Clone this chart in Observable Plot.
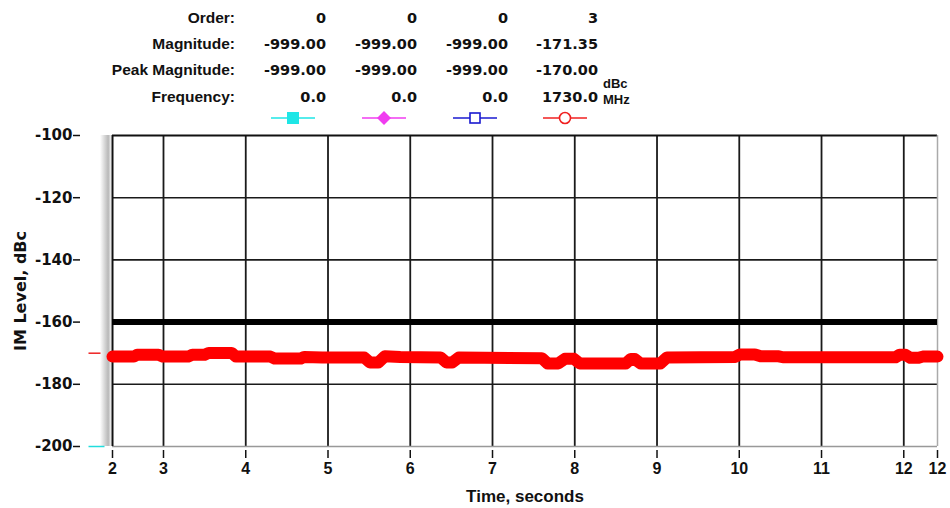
<!DOCTYPE html>
<html>
<head>
<meta charset="utf-8">
<script src="https://cdn.jsdelivr.net/npm/d3@7"></script>
<script src="https://cdn.jsdelivr.net/npm/@observablehq/plot@0.6"></script>
<style>
  body { margin: 0; background: #fff; font-family: "Liberation Sans", Arial, sans-serif; }
  #header { display: block; }
  #chart svg { display: block; }
</style>
</head>
<body>
<svg id="header" width="950" height="125"></svg>
<div id="chart"></div>
<script>
// ---- legend table data ----
const rowLabels = ["Order:", "Magnitude:", "Peak Magnitude:", "Frequency:"];
const orderVals = ["0", "0", "0", "3"];
const magnitudeVals = ["-999.00", "-999.00", "-999.00", "-171.35"];
const peakVals = ["-999.00", "-999.00", "-999.00", "-170.00"];
const freqVals = ["0.0", "0.0", "0.0", "1730.0"];
const seriesColors = ["#1ee6e6", "#f03cf0", "#1a1ad0", "#f02020"];
const seriesSymbols = ["squareFilled", "diamondFilled", "squareOpen", "circleOpen"];
const unitLabels = ["dBc", "MHz"];

// ---- axes ----
const xDomain = [2.38, 12.41];
const xTicks = [2.38, 3, 4, 5, 6, 7, 8, 9, 10, 11, 12, 12.41];
const xGrid = [3, 4, 5, 6, 7, 8, 9, 10, 11, 12];
const yDomain = [-200, -100];
const yTicks = [-100, -120, -140, -160, -180, -200];
const yGrid = [-120, -140, -160, -180];

// ---- series ----
const limitLevel = [-160];
const imTime = [2.38, 2.64, 2.68, 2.94, 2.99, 3.30, 3.35, 3.50, 3.55, 3.83, 3.88, 4.30, 4.35, 4.67, 4.71, 4.93,
  5.44, 5.51, 5.61, 5.69, 5.88, 6.37, 6.44, 6.51, 6.59, 7.60, 7.67, 7.80, 7.88, 7.99, 8.06, 8.62, 8.68, 8.73,
  8.80, 9.04, 9.12, 9.95, 10.01, 10.19, 10.26, 10.48, 10.53, 11.90, 11.95, 12.02, 12.08, 12.18, 12.23, 12.41];
const imLevel = [-171.1, -171.1, -170.5, -170.5, -171.1, -171.1, -170.5, -170.5, -169.9, -169.9, -171.1, -171.1, -171.7, -171.7, -171.2, -171.4,
  -171.4, -173.0, -173.0, -171.0, -171.2, -171.4, -173.0, -173.0, -171.4, -171.6, -173.3, -173.3, -171.8, -171.8, -173.3, -173.3, -171.9, -171.9,
  -173.3, -173.3, -171.4, -171.2, -170.4, -170.4, -171.0, -171.0, -171.3, -171.3, -170.5, -170.5, -171.5, -171.5, -171.1, -171.1];
const peakMarker = [-170];
const floorMarker = [-200];

const imData = imTime.map((t, i) => ({t, v: imLevel[i]}));

// ---- header (legend table) ----
const hdr = d3.select("#header");
const font = "Liberation Sans, Arial, sans-serif";
const numFont = "DejaVu Sans, Verdana, sans-serif";
const labelRight = 235;
const colRight = [326, 417, 508, 598];
const rowY = [23, 49, 75, 102];
const rows = [orderVals, magnitudeVals, peakVals, freqVals];
rowLabels.forEach((lab, r) => {
  hdr.append("text").attr("x", labelRight).attr("y", rowY[r]).attr("text-anchor", "end")
    .attr("font-family", font).attr("font-weight", "bold").attr("font-size", 15.5).attr("fill", "#111").text(lab);
  rows[r].forEach((v, c) => {
    hdr.append("text").attr("x", colRight[c]).attr("y", rowY[r]).attr("text-anchor", "end")
      .attr("font-family", numFont).attr("font-weight", "bold").attr("font-size", 14.5).attr("fill", "#111").text(v);
  });
});
hdr.append("text").attr("x", 603).attr("y", 88).attr("font-family", font).attr("font-weight", "bold")
  .attr("font-size", 13).attr("fill", "#111").text(unitLabels[0]);
hdr.append("text").attr("x", 603).attr("y", 104).attr("font-family", font).attr("font-weight", "bold")
  .attr("font-size", 13).attr("fill", "#111").text(unitLabels[1]);
const markerY = 118;
seriesColors.forEach((col, i) => {
  const cx = colRight[i] - 33;
  hdr.append("line").attr("x1", cx - 22).attr("x2", cx + 22).attr("y1", markerY).attr("y2", markerY)
    .attr("stroke", col).attr("stroke-width", 1.6);
  const s = seriesSymbols[i];
  if (s === "squareFilled") {
    hdr.append("rect").attr("x", cx - 6).attr("y", markerY - 6).attr("width", 12).attr("height", 12).attr("fill", col);
  } else if (s === "diamondFilled") {
    hdr.append("path").attr("d", `M${cx},${markerY - 7}L${cx + 7},${markerY}L${cx},${markerY + 7}L${cx - 7},${markerY}Z`).attr("fill", col);
  } else if (s === "squareOpen") {
    hdr.append("rect").attr("x", cx - 5).attr("y", markerY - 5).attr("width", 10).attr("height", 10)
      .attr("fill", "white").attr("stroke", col).attr("stroke-width", 1.6);
  } else {
    hdr.append("circle").attr("cx", cx).attr("cy", markerY).attr("r", 5.5)
      .attr("fill", "white").attr("stroke", col).attr("stroke-width", 1.6);
  }
});

// ---- chart ----
const dash = (half) => ({draw(ctx) { ctx.moveTo(-half, 0); ctx.lineTo(half, 0); }});

const plot = Plot.plot({
  width: 950,
  height: 383,
  marginTop: 10,
  marginBottom: 62,
  marginLeft: 112,
  marginRight: 13,
  style: {fontFamily: font, fontWeight: "bold", fontSize: "16px", color: "#111", background: "white"},
  x: {domain: xDomain, type: "linear"},
  y: {domain: yDomain},
  marks: [
    Plot.ruleX(xGrid, {stroke: "#1a1a1a", strokeWidth: 1.8}),
    Plot.ruleY(yGrid, {stroke: "#1a1a1a", strokeWidth: 1.6}),
    Plot.ruleY([yDomain[1]], {stroke: "#111", strokeWidth: 2}),
    Plot.ruleY([yDomain[0]], {stroke: "#999", strokeWidth: 1.5}),
    Plot.ruleX([xDomain[0]], {stroke: "#111", strokeWidth: 2}),
    Plot.ruleX([xDomain[1]], {stroke: "#aaa", strokeWidth: 1.5}),
    Plot.ruleY(limitLevel, {stroke: "black", strokeWidth: 6}),
    Plot.line(imData, {x: "t", y: "v", stroke: "#ff0000", strokeWidth: 12, strokeLinejoin: "round", strokeLinecap: "round"}),
    Plot.dot(peakMarker, {y: d => d, frameAnchor: "left", dx: -18, symbol: dash(6), stroke: "#ee2222", strokeWidth: 1.5, fill: "none"}),
    Plot.dot(floorMarker, {y: d => d, frameAnchor: "left", dx: -16, symbol: dash(8), stroke: "#22dddd", strokeWidth: 1.5, fill: "none"}),
    Plot.axisY({ticks: yTicks, tickFormat: d => String(d), tickSize: 7, tickPadding: 1, dx: -32, label: null,
      fontSize: 15, fontFamily: numFont, strokeWidth: 1.5}),
    Plot.axisX({ticks: xTicks, tickFormat: d => String(Math.round(d)), tickSize: 8, tickPadding: 4, dy: 4, label: null, fontSize: 16, strokeWidth: 1.5}),
    Plot.text(["Time, seconds"], {frameAnchor: "bottom", dy: 55, text: d => d, fontSize: 17, fontWeight: "bold"}),
    Plot.text(["IM Level, dBc"], {frameAnchor: "left", dx: -92, rotate: -90, textAnchor: "middle", text: d => d, fontSize: 16, fontFamily: numFont, fontWeight: "bold"})
  ]
});
document.getElementById("chart").appendChild(plot);

// shadow strip along left edge of the plot frame
const svg = d3.select(plot);
const yS = plot.scale("y"), xS = plot.scale("x");
const defs = svg.insert("defs", ":first-child");
const grad = defs.append("linearGradient").attr("id", "shade").attr("x1", 0).attr("x2", 1).attr("y1", 0).attr("y2", 0);
grad.append("stop").attr("offset", "0%").attr("stop-color", "#ffffff");
grad.append("stop").attr("offset", "75%").attr("stop-color", "#b8b8b8");
grad.append("stop").attr("offset", "90%").attr("stop-color", "#d8d8d8");
grad.append("stop").attr("offset", "100%").attr("stop-color", "#f4f4f4");
const x0 = xS.apply(xDomain[0]);
svg.insert("rect", "g").attr("x", x0 - 12).attr("width", 11)
  .attr("y", yS.apply(yDomain[1])).attr("height", yS.apply(yDomain[0]) - yS.apply(yDomain[1]))
  .attr("fill", "url(#shade)");
</script>
</body>
</html>
